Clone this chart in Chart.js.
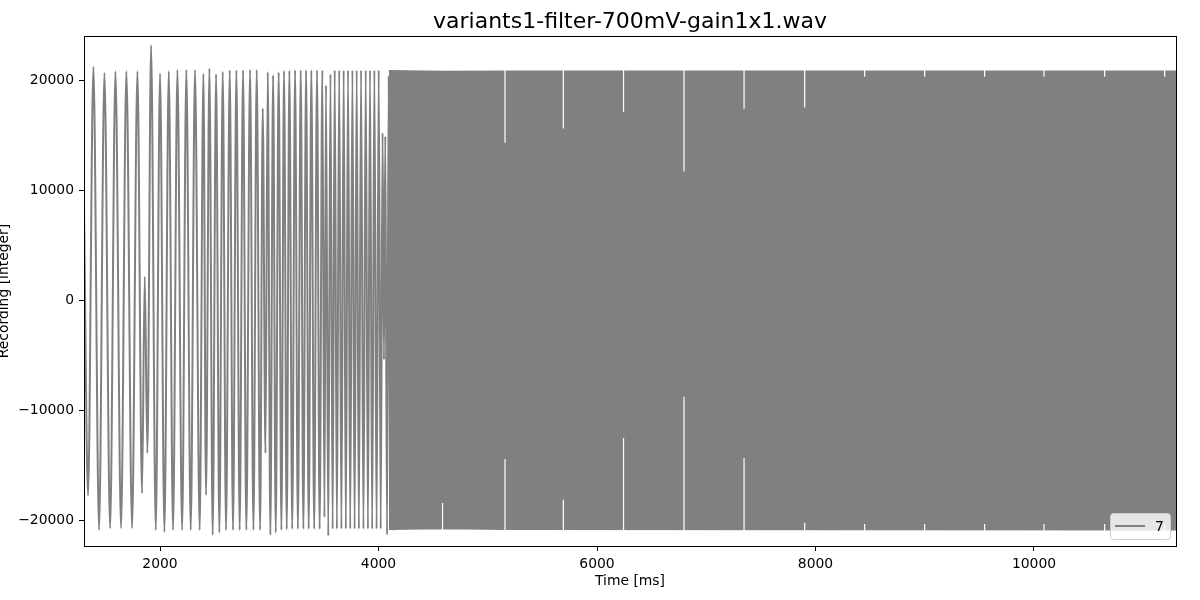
<!DOCTYPE html>
<html>
<head>
<meta charset="utf-8">
<title>variants1-filter-700mV-gain1x1.wav</title>
<script src="https://cdn.jsdelivr.net/npm/chart.js@4/dist/chart.umd.min.js"></script>
<style>
  html, body { margin: 0; padding: 0; background: #fff; }
  #wrap { width: 1200px; height: 600px; }
</style>
</head>
<body>
<div id="wrap"><canvas id="wave" width="1200" height="600"></canvas></div>
<script>
// --- Data ---
const titleText = 'variants1-filter-700mV-gain1x1.wav';
const seriesLabel = '7';

const xTicks = [2000, 4000, 6000, 8000, 10000];
const yTicks = [-20000, -10000, 0, 10000, 20000];

// turning points of the slow start (ms, value)
const chirpTime = [
    1304, 1341, 1390, 1442, 1491, 1543, 1592, 1643, 1692, 1744,
    1793, 1835, 1860, 1884, 1918, 1961, 2000, 2040, 2080, 2119,
    2159, 2202, 2241, 2281, 2320, 2363, 2397, 2421, 2452, 2482,
    2513, 2543, 2574, 2604, 2638, 2668, 2699, 2729, 2760, 2790,
    2824, 2855, 2885, 2916, 2940, 2965, 2986, 3010, 3035, 3059,
    3086, 3111, 3135, 3160, 3184, 3210, 3236, 3262, 3288, 3312,
    3337, 3361, 3385, 3411, 3437, 3461, 3486, 3505, 3519, 3540,
    3560, 3580, 3599, 3619, 3640, 3660, 3681, 3701, 3721, 3741,
    3761, 3781, 3800, 3820, 3840, 3862, 3883, 3903, 3922, 3942,
    3962, 3982, 4002, 4020, 4037, 4050, 4062, 4078, 4093, 4108,
    4124, 4139, 4154
];
const chirpValue = [
    8500, -17700, 21200, -20850, 20650, -20700, 20790, -20670, 20790, -20670,
    20790, -17500, 2150, -13850, 23150, -20850, 20580, -21030, 20790, -20850,
    20910, -20850, 20910, -20850, 20910, -20850, 20580, -17670, 21060, -21300,
    20520, -21090, 20760, -20850, 20880, -20850, 20880, -20850, 20880, -20850,
    20910, -20850, 20910, -20850, 17430, -13890, 20730, -21300, 20430, -21090,
    20700, -20850, 20850, -20790, 20850, -20750, 20880, -20750, 20880, -20750,
    20880, -20750, 20880, -20750, 20880, -20750, 20880, -19700, 19540, -21400,
    20540, -20750, 20880, -20750, 20880, -20750, 20880, -20750, 20880, -20750,
    20880, -20750, 20880, -20750, 20880, -20750, 20880, -20750, 20880, -20750,
    20880, -20750, 20880, -20750, 15200, -5400, 14900, -21300, 20400, -20800,
    20800, -20800, 20800
];

// fast part: too dense to resolve, only its envelope
const bandTime = [4095, 4590, 5160, 11300];
const bandHigh = [20850, 20780, 20800, 20800];
const bandLow = [-20780, -20700, -20780, -20820];

// short breaks between bursts: how far the swing reaches there
const gapTime = [4586, 5158, 5692, 6243, 6796, 7346, 7901, 8450, 8999, 9548, 10092, 10647, 11196];
const gapHigh = [null, 14300, 15600, 17100, 11700, 17400, 17500, 20300, 20300, 20300, 20300, 20300, 20300];
const gapLow = [-18400, -14400, -18100, -12500, -8750, -14300, -20200, -20300, -20300, -20300, -20300, -20300, -20300];

// --- Axis limits ---
const X_MIN = 1304, X_MAX = 11300;
const Y_MIN = -22300, Y_MAX = 24000;

const GRAY = '#808080';
Chart.defaults.font.family = '"DejaVu Sans", sans-serif';
Chart.defaults.color = '#000';

const pts = (xs, ys) => xs.map((x, i) => ({ x: x, y: ys[i] }));

// white break lines, from the frame edge to where the swing stops
const gapPoints = [];
gapTime.forEach((t, i) => {
    if (gapHigh[i] !== null) {
        gapPoints.push({ x: t, y: Y_MAX }, { x: t, y: gapHigh[i] }, { x: t, y: null });
    }
    gapPoints.push({ x: t, y: Y_MIN }, { x: t, y: gapLow[i] }, { x: t, y: null });
});

const fmt = v => (v < 0 ? '\u2212' + Math.abs(v) : String(v));

// frame, title and the small legend box inside the axes
const decor = {
    id: 'decor',
    afterDraw(chart) {
        const { ctx, chartArea: a } = chart;
        ctx.save();
        const l = Math.round(a.left) + 0.5, r = Math.round(a.right) + 0.5;
        const t = Math.round(a.top) + 0.5, b = Math.round(a.bottom) + 0.5;
        ctx.strokeStyle = '#000';
        ctx.lineWidth = 1;
        ctx.strokeRect(l, t, r - l, b - t);

        ctx.fillStyle = '#000';
        ctx.font = '22px "DejaVu Sans"';
        ctx.textAlign = 'center';
        ctx.textBaseline = 'alphabetic';
        ctx.fillText(titleText, (a.left + a.right) / 2, 28);

        // legend
        const bw = 60, bh = 26;
        const bx = a.right - 6 - bw, by = a.bottom - 7 - bh;
        ctx.beginPath();
        ctx.roundRect(bx + 0.5, by + 0.5, bw, bh, 3);
        ctx.fillStyle = 'rgba(255,255,255,0.8)';
        ctx.fill();
        ctx.strokeStyle = '#cccccc';
        ctx.stroke();
        ctx.beginPath();
        ctx.moveTo(bx + 5, by + 13);
        ctx.lineTo(bx + 35, by + 13);
        ctx.strokeStyle = GRAY;
        ctx.lineWidth = 2;
        ctx.stroke();
        ctx.fillStyle = '#000';
        ctx.font = '14px "DejaVu Sans"';
        ctx.textAlign = 'left';
        ctx.textBaseline = 'middle';
        ctx.fillText(chart.data.datasets[0].label, bx + 45, by + 14);
        ctx.restore();
    }
};

new Chart(document.getElementById('wave'), {
    type: 'line',
    data: {
        datasets: [
            {
                label: seriesLabel,
                data: pts(chirpTime, chirpValue),
                borderColor: GRAY,
                borderWidth: 2,
                pointRadius: 0,
                cubicInterpolationMode: 'monotone',
                fill: false,
                order: 1
            },
            {
                label: 'low',
                data: pts(bandTime, bandLow),
                borderColor: GRAY,
                borderWidth: 1.5,
                pointRadius: 0,
                fill: false,
                order: 3
            },
            {
                label: 'high',
                data: pts(bandTime, bandHigh),
                borderColor: GRAY,
                backgroundColor: GRAY,
                borderWidth: 1.5,
                pointRadius: 0,
                fill: '-1',
                order: 2
            },
            {
                label: 'breaks',
                data: gapPoints,
                borderColor: '#ffffff',
                borderWidth: 1.2,
                pointRadius: 0,
                spanGaps: false,
                fill: false,
                order: 0
            }
        ]
    },
    options: {
        responsive: false,
        animation: false,
        devicePixelRatio: 1,
        events: [],
        layout: { padding: { left: 0, right: 24, top: 36, bottom: 0 } },
        plugins: {
            legend: { display: false },
            title: { display: false },
            tooltip: { enabled: false }
        },
        scales: {
            x: {
                type: 'linear',
                min: X_MIN,
                max: X_MAX,
                afterBuildTicks: s => { s.ticks = xTicks.map(v => ({ value: v })); },
                afterFit: s => { s.height = 54; },
                ticks: { font: { size: 13.9 }, padding: 5, maxRotation: 0, autoSkip: false, callback: fmt },
                grid: { drawOnChartArea: false, tickLength: 5, color: '#000' },
                border: { display: false },
                title: { display: true, text: 'Time [ms]', font: { size: 13.9 }, padding: { top: 0, bottom: 10 } }
            },
            y: {
                type: 'linear',
                min: Y_MIN,
                max: Y_MAX,
                afterBuildTicks: s => { s.ticks = yTicks.map(v => ({ value: v })); },
                afterFit: s => { s.width = 84; },
                ticks: { font: { size: 13.9 }, padding: 5, callback: fmt },
                grid: { drawOnChartArea: false, tickLength: 5, color: '#000' },
                border: { display: false },
                title: { display: true, text: 'Recording [integer]', font: { size: 13.9, lineHeight: 0.66 }, padding: 0 }
            }
        }
    },
    plugins: [decor]
});
</script>
</body>
</html>
